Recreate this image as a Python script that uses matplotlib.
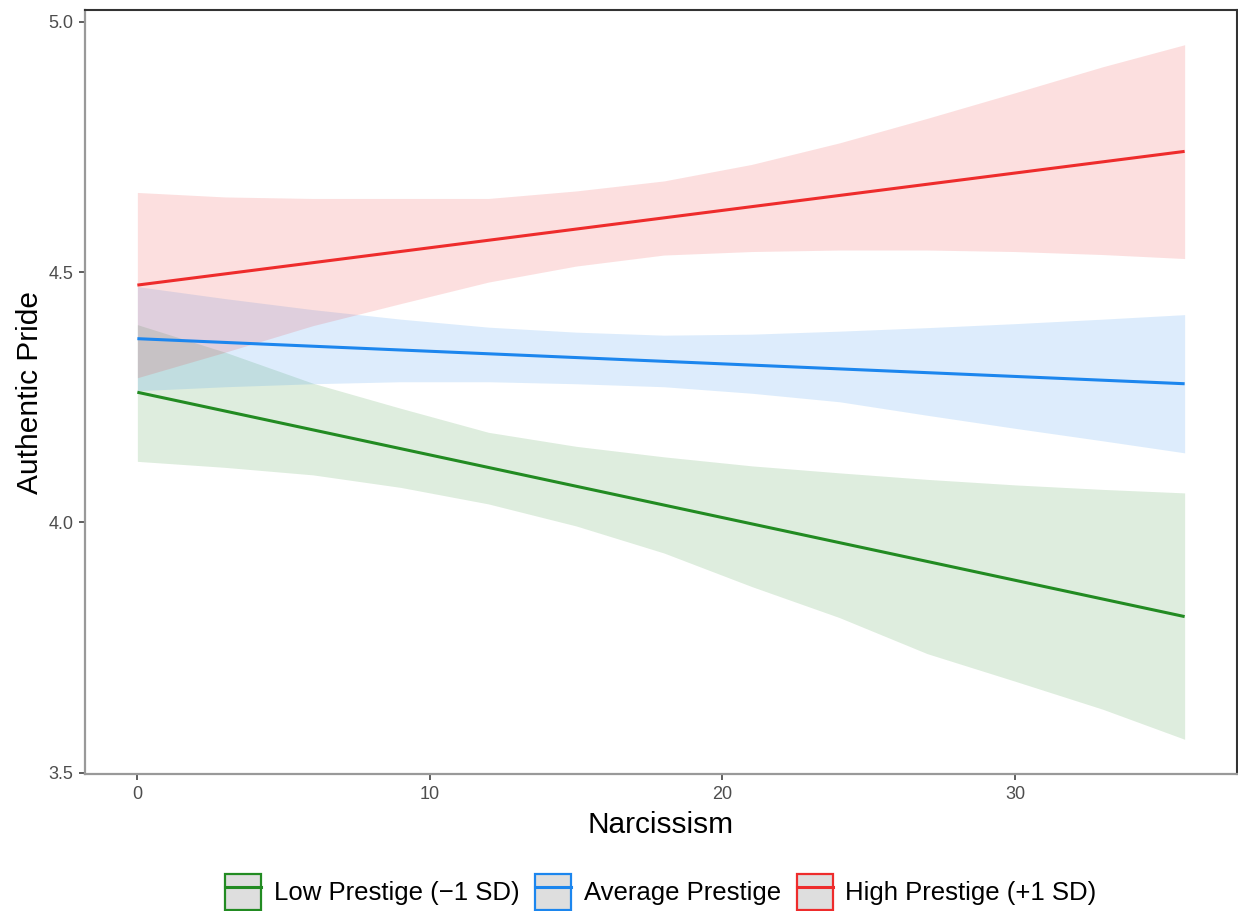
import numpy as np
import matplotlib.pyplot as plt
from matplotlib.patches import Patch
from matplotlib.lines import Line2D

plt.rcParams['font.family'] = ['Liberation Sans', 'DejaVu Sans']

# narcissism grid at which the ribbons were read
narc = [0, 3, 6, 9, 12, 15, 18, 21, 24, 27, 30, 33, 35.8]

# fitted lines (start / end)
line_x = [0, 35.8]
low_fit = [4.260, 3.812]
avg_fit = [4.367, 4.277]
high_fit = [4.474, 4.741]

# confidence bands
low_upper = [4.395, 4.340, 4.278, 4.228, 4.180, 4.152, 4.131, 4.113, 4.099, 4.086, 4.075, 4.066, 4.059]
low_lower = [4.122, 4.110, 4.095, 4.070, 4.037, 3.993, 3.939, 3.872, 3.810, 3.738, 3.683, 3.627, 3.567]
avg_upper = [4.471, 4.447, 4.425, 4.406, 4.390, 4.380, 4.374, 4.376, 4.382, 4.389, 4.397, 4.406, 4.415]
avg_lower = [4.263, 4.271, 4.277, 4.281, 4.281, 4.277, 4.271, 4.258, 4.241, 4.214, 4.188, 4.163, 4.139]
high_upper = [4.659, 4.650, 4.647, 4.647, 4.647, 4.662, 4.682, 4.715, 4.758, 4.807, 4.858, 4.910, 4.954]
high_lower = [4.289, 4.340, 4.393, 4.437, 4.480, 4.512, 4.534, 4.541, 4.544, 4.544, 4.541, 4.535, 4.527]

labels = ['Low Prestige (\u22121 SD)', 'Average Prestige', 'High Prestige (+1 SD)']
colors = ['#228B22', '#1C86EE', '#EE2C2C']

fig = plt.figure(figsize=(12.38, 9.11), dpi=100)
ax = fig.add_axes([85 / 1238, 137 / 911, 1152 / 1238, 764 / 911])

bands = [(low_lower, low_upper), (avg_lower, avg_upper), (high_lower, high_upper)]
fits = [low_fit, avg_fit, high_fit]

for (lo, hi), c in zip(bands, colors):
    ax.fill_between(narc, lo, hi, color=c, alpha=0.15, linewidth=0)
for f, c in zip(fits, colors):
    ax.plot(line_x, f, color=c, linewidth=2.2, solid_capstyle='butt')

# ggplot-like 5% expansion
xr = max(narc) - min(narc)
ax.set_xlim(min(narc) - 0.05 * xr, max(narc) + 0.05 * xr)
ymin = min(low_lower)
ymax = max(high_upper)
yr = ymax - ymin
ax.set_ylim(ymin - 0.05 * yr, ymax + 0.05 * yr)

ax.set_xticks([0, 10, 20, 30])
ax.set_yticks([3.5, 4.0, 4.5, 5.0])
ax.set_yticklabels(['3.5', '4.0', '4.5', '5.0'])

for s in ['top', 'right']:
    ax.spines[s].set_color('#333333')
    ax.spines[s].set_linewidth(1.5)
for s in ['left', 'bottom']:
    ax.spines[s].set_color('#999999')
    ax.spines[s].set_linewidth(1.6)
ax.tick_params(axis='both', length=4.3, width=1.1, color='#333333',
               labelsize=13, labelcolor='#4D4D4D', pad=4)

ax.set_xlabel('Narcissism', fontsize=21.5, labelpad=6)
ax.set_ylabel('Authentic Pride', fontsize=21.5, labelpad=3)

handles = []
for c in colors:
    box = Patch(facecolor='#DEDEDE', edgecolor=c, linewidth=1.6)
    ln = Line2D([], [], color=c, linewidth=2.2)
    handles.append((box, ln))

fig.legend(handles, labels, loc='lower center', bbox_to_anchor=(0.534, 0.0),
           ncol=3, frameon=False, fontsize=18.5, handlelength=1.4,
           handleheight=1.75, handletextpad=0.5, columnspacing=0.6,
           borderpad=0.05, borderaxespad=0.0)

fig.savefig('out.png', dpi=100)
